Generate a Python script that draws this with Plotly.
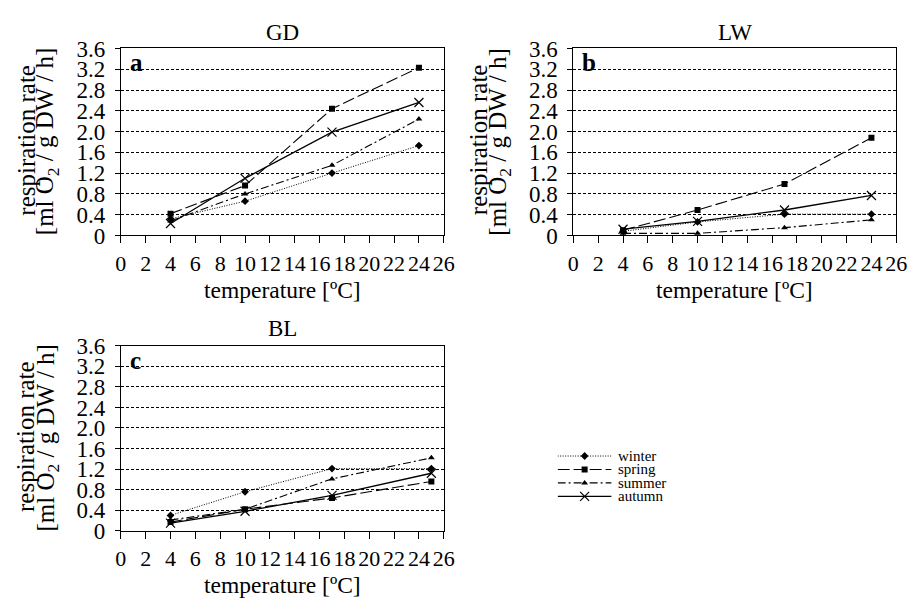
import plotly.graph_objects as go

# ---------------- data ----------------
temps_ab = [4, 10, 17, 24]
temps_c = [4, 10, 17, 25]

gd_winter = [0.32, 0.66, 1.20, 1.73]
gd_spring = [0.42, 0.96, 2.44, 3.23]
gd_summer = [0.28, 0.80, 1.35, 2.24]
gd_autumn = [0.23, 1.10, 1.99, 2.56]

lw_winter = [0.08, 0.26, 0.41, 0.41]
lw_spring = [0.10, 0.49, 0.99, 1.88]
lw_summer = [0.04, 0.04, 0.15, 0.30]
lw_autumn = [0.12, 0.27, 0.49, 0.77]

bl_winter = [0.30, 0.76, 1.21, 1.21]
bl_spring = [0.17, 0.42, 0.64, 0.96]
bl_summer = [0.21, 0.42, 1.01, 1.42]
bl_autumn = [0.15, 0.38, 0.69, 1.12]

seasons = ["winter", "spring", "summer", "autumn"]
panel_titles = ["GD", "LW", "BL"]
panel_letters = ["a", "b", "c"]
x_ticks = list(range(0, 27, 2))
y_tickvals = [0, 0.4, 0.8, 1.2, 1.6, 2.0, 2.4, 2.8, 3.2, 3.6]
y_ticktext = ["0", "0.4", "0.8", "1.2", "1.6", "2.0", "2.4", "2.8", "3.2", "3.6"]

# ---------------- styles ----------------
W, H = 922, 610
FONT = "Liberation Serif, Times New Roman, serif"
styles = {
    "winter": dict(dash="1px,1.5px", symbol="diamond", size=6, width=1),
    "spring": dict(dash="12px,4px", symbol="square", size=6, width=1.1),
    "summer": dict(dash="8px,3px,2px,3px", symbol="triangle-up", size=6, width=1.1),
    "autumn": dict(dash="solid", symbol="x-thin", size=9, width=1.3),
}

panels = [
    dict(x=temps_ab, data=[gd_winter, gd_spring, gd_summer, gd_autumn],
         px=(117, 446), py=(38, 233), ty=21),
    dict(x=temps_ab, data=[lw_winter, lw_spring, lw_summer, lw_autumn],
         px=(578, 907), py=(38, 233), ty=21),
    dict(x=temps_c, data=[bl_winter, bl_spring, bl_summer, bl_autumn],
         px=(117, 446), py=(348, 541), ty=330),
]

fig = go.Figure()
annotations = []


def py2paper(v):
    return 1 - v / H


def marker_for(s):
    st = styles[s]
    return dict(symbol=st["symbol"], size=st["size"], color="black",
                line=dict(color="black", width=1.2 if s == "autumn" else 0))


for i, p in enumerate(panels):
    sfx = "" if i == 0 else str(i + 1)
    for s, ys in zip(seasons, p["data"]):
        st = styles[s]
        fig.add_trace(go.Scatter(
            x=p["x"], y=ys, mode="lines+markers", name=s, showlegend=False,
            line=dict(color="black", width=st["width"], dash=st["dash"]),
            marker=marker_for(s),
            xaxis="x" + sfx, yaxis="y" + sfx,
        ))
    xd = [p["px"][0] / W, p["px"][1] / W]
    yd = [py2paper(p["py"][1]), py2paper(p["py"][0])]
    fig.update_layout(**{
        "xaxis" + sfx: dict(
            domain=xd, range=[0, 26], tickvals=x_ticks, ticks="outside", ticklen=7,
            tickcolor="black", showline=True, linecolor="black", linewidth=1,
            mirror=True, showgrid=False, zeroline=False, tickangle=0,
            tickfont=dict(family=FONT, size=22, color="black"),
            ticklabelstandoff=1, anchor="y" + sfx, fixedrange=True,
        ),
        "yaxis" + sfx: dict(
            domain=yd, range=[0, 3.6], tickvals=y_tickvals, ticktext=y_ticktext,
            ticks="outside", ticklen=5, tickcolor="black", showline=True,
            linecolor="black", linewidth=1, mirror=True, showgrid=True,
            gridcolor="black", gridwidth=1, griddash="3px,2px", zeroline=False,
            tickfont=dict(family=FONT, size=23, color="black"),
            ticklabelstandoff=5, anchor="x" + sfx, fixedrange=True,
        ),
    })
    cx = (p["px"][0] + p["px"][1]) / 2 / W
    # panel title
    annotations.append(dict(
        text=panel_titles[i], x=cx, y=py2paper(p["ty"]), xref="paper", yref="paper",
        showarrow=False, xanchor="center", yanchor="middle",
        font=dict(family=FONT, size=23, color="black")))
    # panel letter
    annotations.append(dict(
        text="<b>%s</b>" % panel_letters[i], x=(p["px"][0] + 7) / W, y=py2paper(p["py"][0] - 1),
        xref="paper", yref="paper", showarrow=False, xanchor="left", yanchor="top",
        font=dict(family=FONT, size=25, color="black")))
    # x title
    annotations.append(dict(
        text="temperature [ºC]", x=cx, y=py2paper(p["py"][1] + 57), xref="paper", yref="paper",
        showarrow=False, xanchor="center", yanchor="middle",
        font=dict(family=FONT, size=23.5, color="black")))
    # y titles (two lines)
    cy = (p["py"][0] + p["py"][1]) / 2
    annotations.append(dict(
        text="respiration rate", x=(p["px"][0] - 97) / W, y=py2paper(cy - 2),
        xref="paper", yref="paper", showarrow=False, textangle=-90,
        xanchor="center", yanchor="middle",
        font=dict(family=FONT, size=25, color="black")))
    annotations.append(dict(
        text="[ml O<sub>2</sub> / g DW / h]", x=(p["px"][0] - 75) / W, y=py2paper(cy),
        xref="paper", yref="paper", showarrow=False, textangle=-90,
        xanchor="center", yanchor="middle",
        font=dict(family=FONT, size=25, color="black")))

# ---------------- legend (drawn on a hidden helper axis) ----------------
leg_x0, leg_x1 = 562, 617      # pixel extent of legend key lines
leg_top, row_h = 456, 14       # pixel top of legend block and row height
leg_rows = list(range(len(seasons)))
for r, s in zip(leg_rows, seasons):
    st = styles[s]
    fig.add_trace(go.Scatter(
        x=[0, 0.5, 1], y=[r, r, r], mode="lines", showlegend=False,
        line=dict(color="black", width=st["width"], dash=st["dash"]),
        xaxis="x4", yaxis="y4"))
    fig.add_trace(go.Scatter(
        x=[0.5], y=[r], mode="markers", showlegend=False,
        marker=marker_for(s), xaxis="x4", yaxis="y4"))
    annotations.append(dict(
        text=s, x=1, y=r, xref="x4", yref="y4", xanchor="left", yanchor="middle",
        xshift=4, showarrow=False, font=dict(family=FONT, size=15, color="black")))

fig.update_layout(
    xaxis4=dict(domain=[leg_x0 / W, leg_x1 / W], range=[0, 1], visible=False,
                anchor="y4", fixedrange=True),
    yaxis4=dict(domain=[py2paper(leg_top + row_h * len(seasons)), py2paper(leg_top)],
                range=[len(seasons) - 0.5, -0.5], visible=False, anchor="x4",
                fixedrange=True),
)

fig.update_layout(
    width=W, height=H, margin=dict(l=0, r=0, t=0, b=0),
    paper_bgcolor="white", plot_bgcolor="white",
    annotations=annotations,
    showlegend=False,
    hovermode=False,
)

fig.write_html("out.html", config={"displayModeBar": False},
               post_script="document.body.style.margin='0';document.body.style.padding='0';")
